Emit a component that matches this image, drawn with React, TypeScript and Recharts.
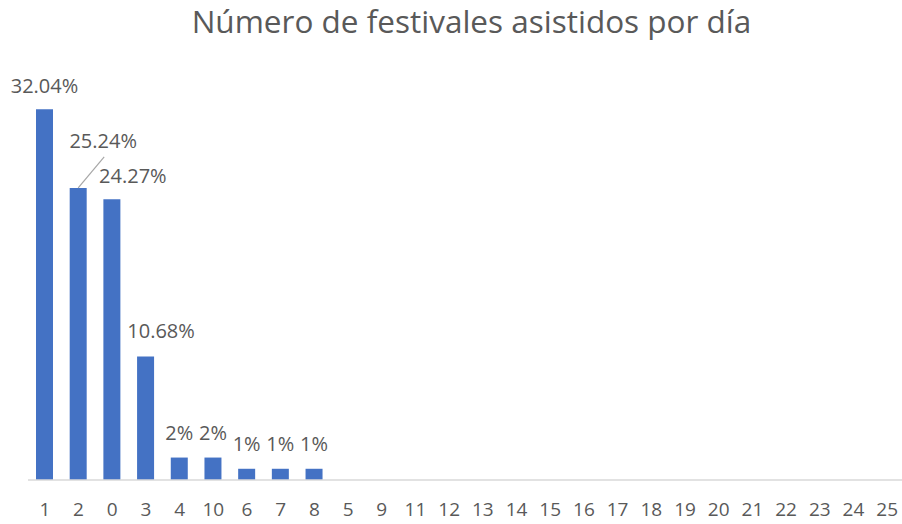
import React from 'react';
import { BarChart, Bar, XAxis, YAxis, LabelList } from 'recharts';

const categories = ['1', '2', '0', '3', '4', '10', '6', '7', '8', '5', '9', '11', '12', '13', '14', '15', '16', '17', '18', '19', '20', '21', '22', '23', '24', '25'];
const shares = [32.04, 25.24, 24.27, 10.68, 1.94, 1.94, 0.97, 0.97, 0.97, 0, 0, 0, 0, 0, 0, 0, 0, 0, 0, 0, 0, 0, 0, 0, 0, 0];
const labelTexts = ['32.04%', '25.24%', '24.27%', '10.68%', '2%', '2%', '1%', '1%', '1%', '', '', '', '', '', '', '', '', '', '', '', '', '', '', '', '', ''];
const title = 'Número de festivales asistidos por día';

const data = categories.map((c, i) => ({ cat: c, share: shares[i], label: labelTexts[i] }));

// label nudges (styling only), keyed by category
const labelNudge: Record<string, { dx: number; dy: number; leader?: boolean }> = {
  '1': { dx: 0, dy: 2 },
  '2': { dx: 25, dy: -22, leader: true },
  '0': { dx: 21, dy: 2 },
  '3': { dx: 15.5, dy: 0 },
};

const FONT = '"Open Sans", "Liberation Sans", sans-serif';
const TEXT = '#595959';

const renderLabel = (props: any) => {
  const { x, y, width, index } = props;
  const d = data[index];
  if (!d || !d.label) return null;
  const n = labelNudge[d.cat] || { dx: 0, dy: 0 };
  const cx = Number(x) + Number(width) / 2;
  const top = Number(y);
  const lx = cx + n.dx;
  const ly = top - 18 + n.dy;
  return (
    <g>
      {n.leader ? (
        <line x1={cx} y1={top} x2={cx + 26} y2={top - 31} stroke="#a6a6a6" strokeWidth={1.2} />
      ) : null}
      <text x={lx} y={ly} textAnchor="middle" fill={TEXT} fontSize={20} fontFamily={FONT}>
        {d.label}
      </text>
    </g>
  );
};

export default function App() {
  return (
    <div style={{ position: 'absolute', left: 0, top: 0, width: 902, height: 524, overflow: 'hidden', background: '#fff' }}>
      <div
        style={{
          position: 'absolute',
          left: 33.5,
          width: 876,
          top: -1,
          textAlign: 'center',
          fontFamily: FONT,
          fontSize: 31.5,
          color: TEXT,
          lineHeight: '44px',
          whiteSpace: 'nowrap',
        }}
      >
        {title}
      </div>
      <BarChart
        width={904}
        height={524}
        data={data}
        margin={{ top: 75, right: 0, bottom: 14, left: 28 }}
        barSize={17}
      >
        <XAxis
          dataKey="cat"
          interval={0}
          tickLine={false}
          axisLine={{ stroke: '#d9d9d9', strokeWidth: 1.5 }}
          tick={{ fill: TEXT, fontSize: 19, fontFamily: FONT }}
          tickMargin={17}
        />
        <YAxis hide domain={[0, 35]} />
        <Bar dataKey="share" fill="#4472C4" isAnimationActive={false}>
          <LabelList dataKey="label" content={renderLabel} />
        </Bar>
      </BarChart>
    </div>
  );
}
